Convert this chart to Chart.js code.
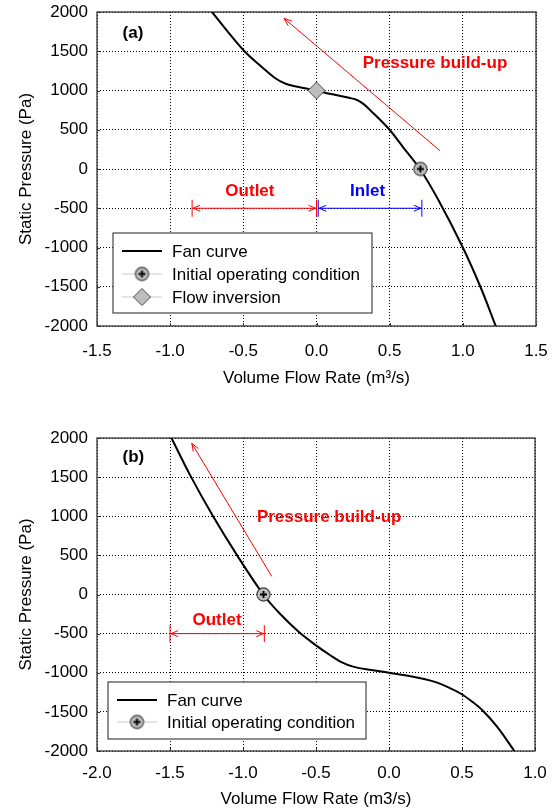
<!DOCTYPE html>
<html><head><meta charset="utf-8">
<script src="https://cdn.jsdelivr.net/npm/chart.js@4.4.1/dist/chart.umd.min.js"></script>
<style>
html,body{margin:0;padding:0;background:#fff;width:555px;height:811px;overflow:hidden}
canvas{position:absolute;left:0;display:block}
#ca{top:0}#cb{top:405px}
</style></head><body>
<canvas id="ca" width="555" height="405"></canvas>
<canvas id="cb" width="555" height="406"></canvas>
<script>
// ---------- DATA ----------
// Panel (a)
const fanAFlow     = [-0.714,-0.60,-0.489,-0.366,-0.284,-0.215,-0.147,-0.079,0,0.05,0.133,0.229,0.277,0.32,0.366,0.489,0.591,0.707,0.833,1.0,1.12,1.225];
const fanAPressure = [2000,1735,1494,1287,1159,1089,1053,1030,1000,975,943,904,879,830,752,522,280,0,-395,-1000,-1500,-2000];
const opAFlow = [0.71], opAPressure = [0];
const invAFlow = [0], invAPressure = [1000];
const flowTicksA = [-1.5,-1.0,-0.5,0,0.5,1.0,1.5];
// Panel (b)
const fanBFlow     = [-1.49,-1.355,-1.205,-1.04,-0.861,-0.75,-0.617,-0.5,-0.4,-0.33,-0.24,-0.12,0,0.12,0.24,0.32,0.40,0.49,0.57,0.64,0.74,0.859];
const fanBPressure = [2000,1500,1000,500,0,-240,-480,-650,-780,-860,-925,-965,-1000,-1035,-1080,-1120,-1180,-1265,-1370,-1480,-1690,-2000];
const opBFlow = [-0.86], opBPressure = [0];
const flowTicksB = [-2.0,-1.5,-1.0,-0.5,0,0.5,1.0];
const pressureTicks = [-2000,-1500,-1000,-500,0,500,1000,1500,2000];
// Annotations (data coordinates: [flow, pressure])
const buildAFrom = [0.844, 233], buildATo = [-0.222, 1920], buildALabel = [0.81, 1346];
const outletASpan = [-0.85, 0.0], inletASpan = [0.012, 0.72], spanAPressure = -500;
const outletALabel = [-0.455, -283], inletALabel = [0.349, -283];
const tagA = [-1.254, 1732];
const buildBFrom = [-0.803, 231], buildBTo = [-1.351, 1932], buildBLabel = [-0.41, 987];
const outletBSpan = [-1.5, -0.854], spanBPressure = -500;
const outletBLabel = [-1.178, -325];
const tagB = [-1.751, 1747];
const legendA = ['Fan curve','Initial operating condition','Flow inversion'];
const legendB = ['Fan curve','Initial operating condition'];

// ---------- STYLE ----------
const FONT = "'Liberation Sans', Arial, Helvetica, sans-serif";
Chart.defaults.font.family = FONT;
Chart.defaults.font.size = 17;
Chart.defaults.color = '#000';

function opMarker(){
  const c = document.createElement('canvas'); c.width = 17; c.height = 17;
  const g = c.getContext('2d');
  g.beginPath(); g.arc(8.5,8.5,6.6,0,Math.PI*2);
  g.fillStyle = '#bdbdbd'; g.fill(); g.strokeStyle = '#3a3a3a'; g.lineWidth = 1.1; g.stroke();
  g.beginPath(); g.moveTo(5,8.5); g.lineTo(12,8.5); g.moveTo(8.5,5); g.lineTo(8.5,12);
  g.strokeStyle = '#000'; g.lineWidth = 1.9; g.stroke();
  return c;
}
const OPIMG = opMarker();

function pts(xs, ys){ return xs.map((x,i)=>({x:x, y:ys[i]})); }

function arrowHead(ctx, x, y, ang, len, half){
  const c = Math.cos(ang), s = Math.sin(ang);
  ctx.beginPath();
  ctx.moveTo(x - len*c - half*s, y - len*s + half*c);
  ctx.lineTo(x, y);
  ctx.lineTo(x - len*c + half*s, y - len*s - half*c);
  ctx.stroke();
}

function drawDiamond(ctx, x, y, r){
  ctx.beginPath(); ctx.moveTo(x-r,y); ctx.lineTo(x,y-r); ctx.lineTo(x+r,y); ctx.lineTo(x,y+r); ctx.closePath();
  ctx.fillStyle = '#bdbdbd'; ctx.fill(); ctx.strokeStyle = '#4a4a4a'; ctx.lineWidth = 1; ctx.stroke();
}

const framePlugin = {
  id: 'frame',
  beforeDatasetsDraw(chart){
    const {ctx, chartArea: a, scales} = chart;
    ctx.save();
    ctx.strokeStyle = '#333'; ctx.lineWidth = 1.3;
    ctx.strokeRect(a.left, a.top, a.right - a.left, a.bottom - a.top);
    ctx.lineWidth = 1;
    ctx.beginPath();
    scales.x.ticks.forEach(t => { const px = Math.round(scales.x.getPixelForValue(t.value))+0.5; ctx.moveTo(px, a.bottom); ctx.lineTo(px, a.bottom-3); });
    scales.y.ticks.forEach(t => { const py = Math.round(scales.y.getPixelForValue(t.value))+0.5; ctx.moveTo(a.left, py); ctx.lineTo(a.left+3, py); });
    ctx.stroke();
    ctx.restore();
  }
};

function annotPlugin(spec){
  return {
    id: 'annot',
    afterDatasetsDraw(chart){
      const {ctx, scales: {x, y}} = chart;
      const X = v => x.getPixelForValue(v), Y = v => y.getPixelForValue(v);
      ctx.save();
      ctx.strokeStyle = '#ff0000'; ctx.lineWidth = 1;
      const x1 = X(spec.buildFrom[0]), y1 = Y(spec.buildFrom[1]), x2 = X(spec.buildTo[0]), y2 = Y(spec.buildTo[1]);
      ctx.beginPath(); ctx.moveTo(x1,y1); ctx.lineTo(x2,y2); ctx.stroke();
      arrowHead(ctx, x2, y2, Math.atan2(y2-y1, x2-x1), 8, 3);
      spec.spans.forEach(sp => {
        const a1 = X(sp.range[0]), a2 = X(sp.range[1]), py = Y(sp.p);
        ctx.strokeStyle = sp.color; ctx.lineWidth = 1;
        ctx.beginPath(); ctx.moveTo(a1, py); ctx.lineTo(a2, py); ctx.stroke();
        ctx.beginPath(); ctx.moveTo(a1, py-8.5); ctx.lineTo(a1, py+8.5); ctx.moveTo(a2, py-8.5); ctx.lineTo(a2, py+8.5); ctx.stroke();
        arrowHead(ctx, a1+1, py, Math.PI, 7, 3);
        arrowHead(ctx, a2-1, py, 0, 7, 3);
      });
      ctx.textAlign = 'center'; ctx.textBaseline = 'middle';
      ctx.font = 'bold 17px ' + FONT;
      spec.texts.forEach(t => { ctx.fillStyle = t.color; ctx.fillText(t.text, X(t.at[0]), Y(t.at[1])); });
      ctx.restore();
    },
    afterDraw(chart){
      const {ctx, chartArea: a} = chart;
      const L = spec.legend;
      const bx = a.left + L.dx, by = a.top + L.dy;
      ctx.save();
      ctx.fillStyle = '#fff'; ctx.fillRect(bx, by, L.w, L.h);
      ctx.strokeStyle = '#444'; ctx.lineWidth = 1.2; ctx.strokeRect(bx, by, L.w, L.h);
      ctx.font = '17px ' + FONT; ctx.textBaseline = 'middle'; ctx.textAlign = 'left'; ctx.fillStyle = '#000';
      L.items.forEach((label, i) => {
        const ry = by + L.rows[i];
        const lx1 = bx + 9, lx2 = bx + 49, cx = (lx1+lx2)/2;
        if (i === 0){
          ctx.strokeStyle = '#000'; ctx.lineWidth = 2;
          ctx.beginPath(); ctx.moveTo(lx1, ry); ctx.lineTo(lx2, ry); ctx.stroke();
        } else {
          ctx.strokeStyle = '#c8c8c8'; ctx.lineWidth = 1;
          ctx.beginPath(); ctx.moveTo(lx1, ry); ctx.lineTo(lx2, ry); ctx.stroke();
          if (i === 1) ctx.drawImage(OPIMG, cx-8.5, ry-8.5);
          else drawDiamond(ctx, cx, ry, 8.5);
        }
        ctx.fillStyle = '#000';
        ctx.fillText(label, bx + 59, ry + 1);
      });
      ctx.restore();
    }
  };
}

function makeChart(canvas, o){
  const datasets = [
    {label:'Fan curve', data: pts(o.fanX, o.fanY), showLine:true, borderColor:'#000', borderWidth:2,
     pointRadius:0, tension:0.35, fill:false, order:3},
    {label:'Initial operating condition', data: pts(o.opX, o.opY), pointStyle: OPIMG, pointRadius:8.5, order:1}
  ];
  if (o.invX) datasets.push({label:'Flow inversion', data: pts(o.invX, o.invY), pointStyle:'rectRot', pointRadius:8.5,
     backgroundColor:'#bdbdbd', borderColor:'#4a4a4a', borderWidth:1, order:2});
  return new Chart(canvas, {
    type: 'scatter',
    data: {datasets},
    options: {
      responsive:false, animation:false, devicePixelRatio:1,
      layout:{padding:{left:0, right:o.padRight, top:o.padTop, bottom:0}},
      plugins:{legend:{display:false}, tooltip:{enabled:false}},
      scales:{
        x:{type:'linear', min:o.xTicks[0], max:o.xTicks[o.xTicks.length-1],
           afterBuildTicks: s => { s.ticks = o.xTicks.map(v=>({value:v})); },
           afterFit: s => { s.height = o.xAxisH; },
           ticks:{padding:0, maxRotation:0, autoSkip:false, font:{size:17}, color:'#000',
                  callback: v => (Math.abs(v)<1e-9?0:v).toFixed(1)},
           grid:{color:'#000', lineWidth:1, drawTicks:true, tickLength:o.xTickPad, tickColor:'rgba(0,0,0,0)'},
           border:{display:false, dash:[1,2]},
           title:{display:true, text:o.xTitle, font:{size:17}, color:'#000', padding:{top:0,bottom:o.xTitlePad}}},
        y:{type:'linear', min:-2000, max:2000,
           afterBuildTicks: s => { s.ticks = pressureTicks.map(v=>({value:v})); },
           afterFit: s => { s.width = 97; },
           ticks:{padding:0, autoSkip:false, font:{size:17}, color:'#000', callback: v => String(v)},
           grid:{color:'#000', lineWidth:1, drawTicks:true, tickLength:9, tickColor:'rgba(0,0,0,0)'},
           border:{display:false, dash:[1,2]},
           title:{display:true, text:'Static Pressure (Pa)', font:{size:17}, color:'#000', padding:{top:16,bottom:0}}}
      }
    },
    plugins:[framePlugin, annotPlugin(o.annot)]
  });
}

makeChart(document.getElementById('ca'), {
  fanX: fanAFlow, fanY: fanAPressure, opX: opAFlow, opY: opAPressure, invX: invAFlow, invY: invAPressure,
  xTicks: flowTicksA, padRight: 19, padTop: 12, xAxisH: 79, xTickPad: 15, xTitlePad: 16,
  xTitle: 'Volume Flow Rate (m\u00B3/s)',
  annot: {
    buildFrom: buildAFrom, buildTo: buildATo,
    spans: [{range: outletASpan, p: spanAPressure, color:'#ff0000'}, {range: inletASpan, p: spanAPressure, color:'#0000ff'}],
    texts: [{text:'Pressure build-up', at: buildALabel, color:'#ff0000'},
            {text:'Outlet', at: outletALabel, color:'#ff0000'},
            {text:'Inlet', at: inletALabel, color:'#0000ff'},
            {text:'(a)', at: tagA, color:'#000'}],
    legend: {dx:16, dy:221, w:259, h:80, rows:[18,41,64], items: legendA}
  }
});

makeChart(document.getElementById('cb'), {
  fanX: fanBFlow, fanY: fanBPressure, opX: opBFlow, opY: opBPressure,
  xTicks: flowTicksB, padRight: 20, padTop: 33, xAxisH: 60, xTickPad: 12, xTitlePad: 1,
  xTitle: 'Volume Flow Rate (m3/s)',
  annot: {
    buildFrom: buildBFrom, buildTo: buildBTo,
    spans: [{range: outletBSpan, p: spanBPressure, color:'#ff0000'}],
    texts: [{text:'Pressure build-up', at: buildBLabel, color:'#ff0000'},
            {text:'Outlet', at: outletBLabel, color:'#ff0000'},
            {text:'(b)', at: tagB, color:'#000'}],
    legend: {dx:11, dy:244, w:258, h:57, rows:[18,40], items: legendB}
  }
});
</script>
</body></html>
